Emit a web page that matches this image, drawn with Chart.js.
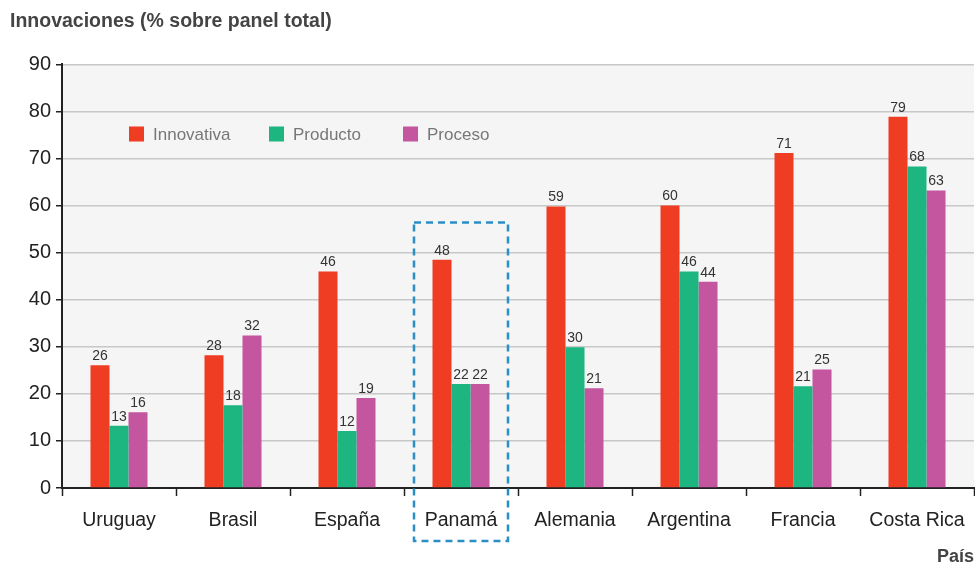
<!DOCTYPE html>
<html>
<head>
<meta charset="utf-8">
<script src="https://cdn.jsdelivr.net/npm/chart.js@4.4.1/dist/chart.umd.min.js"></script>
<style>
  html, body { margin: 0; padding: 0; background: #fff; }
  #wrap { width: 975px; height: 566px; }
</style>
</head>
<body>
<div id="wrap"><canvas id="chart" width="975" height="566"></canvas></div>
<script>
    // Données
    const paises = ['Uruguay', 'Brasil', 'España', 'Panamá', 'Alemania', 'Argentina', 'Francia', 'Costa Rica'];
    const innovativa = [26.1, 28.2, 46.0, 48.5, 59.8, 60.0, 71.2, 78.9];
    const producto = [13.2, 17.6, 12.1, 22.1, 29.9, 46.0, 21.6, 68.3];
    const proceso = [16.1, 32.4, 19.1, 22.1, 21.2, 43.8, 25.2, 63.2];
    // Étiquettes affichées au-dessus des barres
    const etiqInnovativa = ['26', '28', '46', '48', '59', '60', '71', '79'];
    const etiqProducto = ['13', '18', '12', '22', '30', '46', '21', '68'];
    const etiqProceso = ['16', '32', '19', '22', '21', '44', '25', '63'];
    const yTicks = [0, 10, 20, 30, 40, 50, 60, 70, 80, 90];
    const indexResalte = 3; // Panamá

    const FONT = "'Liberation Sans', Arial, sans-serif";

    // Fond gris de la zone de tracé
    const fondPlugin = {
        id: 'fond',
        beforeDraw(chart) {
            const a = chart.chartArea;
            const ctx = chart.ctx;
            ctx.save();
            ctx.fillStyle = '#f5f5f5';
            ctx.fillRect(a.left, a.top, a.right - a.left, a.bottom - a.top);
            ctx.restore();
        }
    };

    // Valeurs au-dessus des barres, légende et cadre pointillé
    const decorPlugin = {
        id: 'decor',
        afterDatasetsDraw(chart) {
            const ctx = chart.ctx;
            ctx.save();
            ctx.font = '14px ' + FONT;
            ctx.fillStyle = '#333';
            ctx.textAlign = 'center';
            ctx.textBaseline = 'bottom';
            chart.data.datasets.forEach((ds, i) => {
                const meta = chart.getDatasetMeta(i);
                meta.data.forEach((bar, j) => {
                    ctx.fillText(ds.etiquetas[j], bar.x, bar.y - 2);
                });
            });

            // Légende
            const a = chart.chartArea;
            const posLegende = [67, 207, 341];
            ctx.font = '17px ' + FONT;
            ctx.textAlign = 'left';
            ctx.textBaseline = 'middle';
            chart.data.datasets.forEach((ds, i) => {
                const x = a.left + posLegende[i];
                const y = 134;
                ctx.fillStyle = ds.backgroundColor;
                ctx.fillRect(x, y - 7.5, 15, 15);
                ctx.fillStyle = '#777';
                ctx.fillText(ds.label, x + 24, y + 1);
            });

            // Cadre pointillé autour de Panamá
            const xs = chart.scales.x;
            const cx = xs.getPixelForValue(indexResalte);
            const ys = chart.scales.y;
            const haut = ys.getPixelForValue(56.4);
            ctx.strokeStyle = '#2b8fc3';
            ctx.lineWidth = 2.5;
            ctx.setLineDash([7, 5]);
            ctx.strokeRect(cx - 47, haut, 94, 541 - haut);
            ctx.restore();
        }
    };

    new Chart(document.getElementById('chart'), {
        type: 'bar',
        data: {
            labels: paises,
            datasets: [
                { label: 'Innovativa', data: innovativa, etiquetas: etiqInnovativa, backgroundColor: '#ef3d23' },
                { label: 'Producto', data: producto, etiquetas: etiqProducto, backgroundColor: '#1db580' },
                { label: 'Proceso', data: proceso, etiquetas: etiqProceso, backgroundColor: '#c4559f' }
            ]
        },
        options: {
            responsive: false,
            animation: false,
            layout: { padding: { left: 10, right: 1, top: 0, bottom: 0 } },
            datasets: {
                bar: { barPercentage: 1, categoryPercentage: 0.5 }
            },
            plugins: {
                legend: { display: false },
                tooltip: { enabled: false },
                title: {
                    display: true,
                    text: 'Innovaciones (% sobre panel total)',
                    align: 'start',
                    color: '#444',
                    font: { family: FONT, size: 19.5, weight: 'bold' },
                    padding: { top: 10, bottom: 31 }
                }
            },
            scales: {
                x: {
                    grid: {
                        offset: true,
                        drawOnChartArea: false,
                        tickLength: 8,
                        tickColor: '#222',
                        tickWidth: 1.5
                    },
                    border: { color: '#222', width: 2 },
                    ticks: {
                        color: '#222',
                        font: { family: FONT, size: 19.5 },
                        padding: 13,
                        maxRotation: 0
                    },
                    title: {
                        display: true,
                        text: 'País',
                        align: 'end',
                        color: '#444',
                        font: { family: FONT, size: 18, weight: 'bold' },
                        padding: { top: 0, bottom: -2 }
                    },
                    afterFit(scale) {
                        scale.height = 78;
                        scale.paddingLeft = 0;
                        scale.paddingRight = 0;
                    }
                },
                y: {
                    min: 0,
                    max: 90,
                    afterBuildTicks(scale) {
                        scale.ticks = yTicks.map(v => ({ value: v }));
                    },
                    grid: {
                        color: '#c8c8c8',
                        lineWidth: 1.5,
                        tickLength: 6,
                        tickColor: '#222',
                        tickWidth: 1.5
                    },
                    border: { color: '#222', width: 2 },
                    ticks: {
                        color: '#222',
                        font: { family: FONT, size: 20 },
                        padding: 5
                    },
                    afterFit(scale) { scale.width = 52; }
                }
            }
        },
        plugins: [fondPlugin, decorPlugin]
    });
</script>
</body>
</html>
